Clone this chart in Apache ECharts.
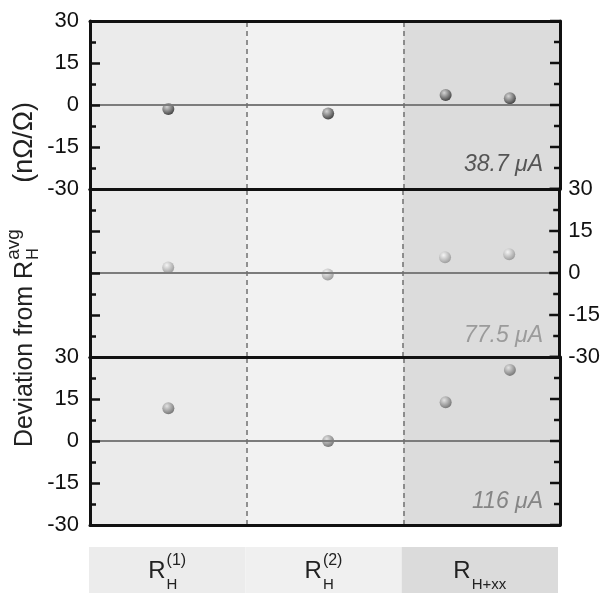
<!DOCTYPE html>
<html>
<head>
<meta charset="utf-8">
<script src="https://cdn.jsdelivr.net/npm/echarts@6/dist/echarts.min.js"></script>
<style>
  html, body { margin: 0; padding: 0; background: #fff; }
  #chart { width: 603px; height: 593px; }
</style>
</head>
<body>
<div id="chart"></div>
<script>
// Measurement columns (x = 0..3, one unit per column) and labels
const colMain = ['R', 'R', 'R'];
const colSup = ['(1)', '(2)', ''];
const colSub = ['H', 'H', 'H+xx'];

// Bias currents, one panel each
const currents = ['38.7 \u03bcA', '77.5 \u03bcA', '116 \u03bcA'];

// x position of each measurement inside the columns
const pointX = [0.5, 1.52, 2.27, 2.68];

// Deviation from R_H^avg in nΩ/Ω
const dev387 = [-1.4, -3.0, 3.6, 2.4];
const dev775 = [2.0, -0.5, 5.6, 6.7];
const dev116 = [11.7, 0.0, 13.8, 25.4];

// y scale and tick marks shared by all panels
const yMin = -30, yMax = 30, yStep = 15;
const majorTicks = [-30, -15, 0, 15, 30];
const minorTicks = [-22.5, -7.5, 7.5, 22.5];

const panels = [dev387, dev775, dev116];

// ---- styling ----
const FONT = '"Liberation Sans", Arial, Helvetica, sans-serif';
const GRID_LEFT = 90, GRID_RIGHT = 43, GRID_TOP = 21, PANEL_H = 168;
const MAJOR_LEN = 10, MINOR_LEN = 6, TICK_W = 2.5;
const bandColors = ['#ebebeb', '#f2f2f2', '#dcdcdc'];
const labelBandColors = ['#ececec', '#f0f0f0', '#dbdbdb'];
const sphereStyles = [
  { light: '#d4d4d4', dark: '#444444' },
  { light: '#f4f4f4', dark: '#9c9c9c' },
  { light: '#e2e2e2', dark: '#767676' }
];
const noteColors = ['#555555', '#9b9b9b', '#858585'];
const noteTops = [153, 324, 490];

const measureCtx = document.createElement('canvas').getContext('2d');
function textWidth(s, size) {
  measureCtx.font = size + 'px "Liberation Sans", Arial, sans-serif';
  return measureCtx.measureText(s).width;
}

const grid = [], xAxis = [], yAxis = [], series = [], title = [];
const frame = { show: true, onZero: false, lineStyle: { color: '#111', width: 3 } };

panels.forEach((vals, p) => {
  grid.push({ left: GRID_LEFT, right: GRID_RIGHT, top: GRID_TOP + PANEL_H * p, height: PANEL_H });

  ['bottom', 'top'].forEach(pos => {
    xAxis.push({
      gridIndex: p, type: 'value', min: 0, max: 3, position: pos,
      axisLine: frame, axisTick: { show: false }, axisLabel: { show: false },
      splitLine: { show: false }, z: 5
    });
  });

  ['left', 'right'].forEach(side => {
    const isLeft = side === 'left';
    const labeled = isLeft ? p !== 1 : p === 1;
    yAxis.push({
      gridIndex: p, type: 'value', min: yMin, max: yMax, interval: yStep, position: side,
      axisLine: frame,
      axisTick: { show: isLeft, inside: true, length: MAJOR_LEN, lineStyle: { color: '#111', width: TICK_W } },
      minorTick: { show: isLeft, splitNumber: 2, length: MINOR_LEN, lineStyle: { color: '#111', width: TICK_W } },
      splitLine: { show: false }, minorSplitLine: { show: false },
      axisLabel: {
        show: labeled, fontSize: 22, fontFamily: FONT, color: '#111',
        margin: isLeft ? 11 : 9
      },
      z: 5
    });
  });

  // shaded column backgrounds, on a layer beneath everything else
  series.push({
    type: 'custom', xAxisIndex: 2 * p, yAxisIndex: 2 * p, zlevel: -1, z: 1, silent: true,
    data: [0, 1, 2],
    renderItem(params, api) {
      const i = api.value(0);
      const a = api.coord([i, yMax]), b = api.coord([i + 1, yMin]);
      return {
        type: 'rect',
        shape: { x: a[0], y: a[1], width: b[0] - a[0], height: b[1] - a[1] },
        style: { fill: bandColors[i] }
      };
    }
  });

  const sph = sphereStyles[p];
  series.push({
    type: 'scatter', xAxisIndex: 2 * p, yAxisIndex: 2 * p, z: 3,
    symbol: 'circle', symbolSize: 12,
    itemStyle: {
      color: {
        type: 'radial', x: 0.38, y: 0.32, r: 0.7,
        colorStops: [{ offset: 0, color: sph.light }, { offset: 1, color: sph.dark }]
      },
      opacity: 1
    },
    data: pointX.map((x, i) => [x, vals[i]]),
    markLine: {
      silent: true, symbol: ['none', 'none'], label: { show: false },
      data: [
        { yAxis: 0, lineStyle: { color: '#7c7c7c', width: 2.2, type: 'solid' } },
        { xAxis: 1, lineStyle: { color: '#707070', width: 1.5, type: [5, 4] } },
        { xAxis: 2, lineStyle: { color: '#707070', width: 1.5, type: [5, 4] } }
      ]
    }
  });

  title.push({
    text: currents[p], right: 60, top: noteTops[p], padding: 0,
    textStyle: {
      fontSize: 23, fontStyle: 'italic', fontWeight: 'normal',
      color: noteColors[p], fontFamily: FONT
    }
  });
});

// column label strip below the panels
grid.push({ left: 89, right: 45, top: 547, height: 50 });
xAxis.push({ gridIndex: 3, type: 'value', min: 0, max: 3, show: false });
yAxis.push({ gridIndex: 3, type: 'value', min: 0, max: 1, show: false });
series.push({
  type: 'custom', xAxisIndex: 6, yAxisIndex: 6, silent: true,
  data: [0, 1, 2],
  renderItem(params, api) {
    const i = api.value(0);
    const a = api.coord([i, 1]), b = api.coord([i + 1, 0]);
    const cx = (a[0] + b[0]) / 2;
    const wR = textWidth(colMain[i], 24);
    const wSup = textWidth(colSup[i], 16);
    const wSub = textWidth(colSub[i], 15);
    const x0 = cx - (wR + Math.max(wSup, wSub) + 1) / 2;
    const txt = (s, x, y, size) => ({
      type: 'text', x, y,
      style: { text: s, fontSize: size, fontFamily: FONT, fill: '#222', align: 'left', verticalAlign: 'middle' }
    });
    return {
      type: 'group',
      children: [
        { type: 'rect', shape: { x: a[0], y: a[1], width: b[0] - a[0], height: b[1] - a[1] }, style: { fill: labelBandColors[i] } },
        txt(colMain[i], x0, a[1] + 24, 24),
        txt(colSup[i], x0 + wR + 1, a[1] + 14, 16),
        txt(colSub[i], x0 + wR + 1, a[1] + 38, 15)
      ]
    };
  }
});

// rotated y-axis title: Deviation from R_H^avg (nΩ/Ω)
const TITLE_SIZE = 25;
const wMain = textWidth('Deviation from R', TITLE_SIZE);
const axisTitle = {
  id: 'axis-title', type: 'group', x: 25, y: 447, rotation: Math.PI / 2,
  children: [
    { type: 'text', x: 0, y: 0, style: { text: 'Deviation from R', fontSize: TITLE_SIZE, fontFamily: FONT, fill: '#222', verticalAlign: 'middle' } },
    { type: 'text', x: wMain + 1, y: 9, style: { text: 'H', fontSize: 16, fontFamily: FONT, fill: '#222', verticalAlign: 'middle' } },
    { type: 'text', x: wMain + 1, y: -11, style: { text: 'avg', fontSize: 19, fontFamily: FONT, fill: '#222', verticalAlign: 'middle' } },
    { type: 'text', x: wMain + 78, y: 0, style: { text: '(n\u03a9/\u03a9)', fontSize: 27, fontFamily: FONT, fill: '#222', verticalAlign: 'middle' } }
  ]
};

const chart = echarts.init(document.getElementById('chart'), null, { renderer: 'canvas' });
chart.setOption({
  animation: false,
  backgroundColor: '#ffffff',
  title, grid, xAxis, yAxis, series,
  graphic: [axisTitle]
});

// inward ticks along each panel's right-hand frame, placed through the panel's scales
const rightTicks = [];
panels.forEach((vals, p) => {
  const addTick = (v, len, k) => {
    const pt = chart.convertToPixel({ xAxisIndex: 2 * p, yAxisIndex: 2 * p }, [3, v]);
    rightTicks.push({
      id: 'rtick-' + p + '-' + k, type: 'rect', zlevel: 1, z: 100, silent: true,
      shape: { x: pt[0] - len, y: pt[1] - TICK_W / 2, width: len, height: TICK_W },
      style: { fill: '#111' }
    });
  };
  majorTicks.forEach((v, k) => addTick(v, MAJOR_LEN, 'M' + k));
  minorTicks.forEach((v, k) => addTick(v, MINOR_LEN, 'm' + k));
});
chart.setOption({ graphic: [axisTitle].concat(rightTicks) });
</script>
</body>
</html>
